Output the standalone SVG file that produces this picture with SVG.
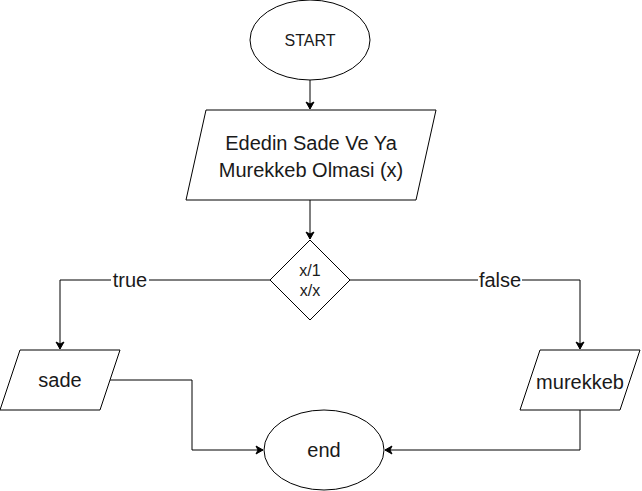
<svg xmlns="http://www.w3.org/2000/svg" width="642" height="491" viewBox="0 0 642 491">
<defs>
<style>
.s{fill:#fff;stroke:#000;stroke-width:1}
.t{font-family:"Liberation Sans",Arial,sans-serif;fill:#1a1a1a;text-anchor:middle}
.c{fill:none;stroke:#000;stroke-width:1}
.lb{fill:#fff}
</style>
<marker id="a" markerWidth="10" markerHeight="10" refX="8" refY="5" orient="auto" markerUnits="userSpaceOnUse">
<path d="M1,1 L8,5 L1,9 L3,5 Z" fill="#000" stroke="#000" stroke-width="1"/>
</marker>
</defs>
<rect width="642" height="491" fill="#fff"/>
<g id="connectors">
<path class="c" d="M310,80 V109" marker-end="url(#a)"/>
<path class="c" d="M310,200 V239" marker-end="url(#a)"/>
<path class="c" d="M270,280 H60 V349" marker-end="url(#a)"/>
<path class="c" d="M350,280 H580 V349" marker-end="url(#a)"/>
<path class="c" d="M110,380 H192 V450 H263" marker-end="url(#a)"/>
<path class="c" d="M580,410 V450 H385" marker-end="url(#a)"/>
<rect class="lb" x="111" y="270" width="38" height="20"/>
<text class="t" x="130" y="287" font-size="20">true</text>
<rect class="lb" x="478" y="270" width="44" height="20"/>
<text class="t" x="500" y="287" font-size="20">false</text>
</g>
<g id="start">
<ellipse class="s" cx="310" cy="40" rx="60" ry="40"/>
<text class="t" x="310" y="46" font-size="16">START</text>
</g>
<g id="input">
<polygon class="s" points="206,110 436,110 416,200 186,200"/>
<text class="t" x="311" y="150" font-size="20">Ededin Sade Ve Ya</text>
<text class="t" x="311" y="177" font-size="20">Murekkeb Olmasi (x)</text>
</g>
<g id="decision">
<polygon class="s" points="310,240 350,280 310,320 270,280"/>
<text class="t" x="310" y="276" font-size="16">x/1</text>
<text class="t" x="310" y="296" font-size="16">x/x</text>
</g>
<g id="sade">
<polygon class="s" points="20,350 120,350 100,410 0,410"/>
<text class="t" x="60" y="387" font-size="20">sade</text>
</g>
<g id="murekkeb">
<polygon class="s" points="540,350 640,350 620,410 520,410"/>
<text class="t" x="580" y="389" font-size="20">murekkeb</text>
</g>
<g id="end">
<ellipse class="s" cx="324" cy="450" rx="60" ry="40"/>
<text class="t" x="324" y="457" font-size="20">end</text>
</g>
</svg>
